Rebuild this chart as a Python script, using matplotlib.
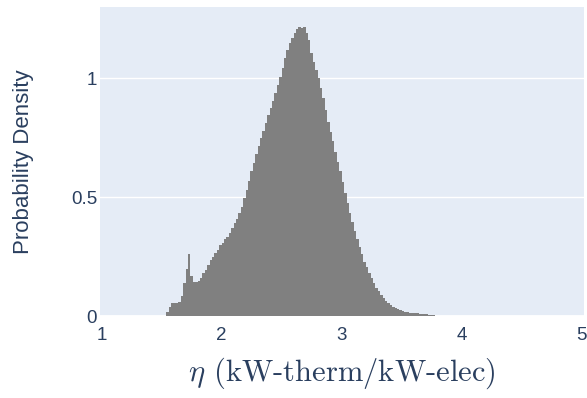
import numpy as np
import matplotlib
matplotlib.use("Agg")
import matplotlib.pyplot as plt

# Histogram of heat-pump efficiency (probability density per bin)
bin_start = 1.54
bin_width = 0.02
density = [
    0.020, 0.040, 0.055, 0.057, 0.057, 0.060, 0.085, 0.140, 0.200, 0.260,
    0.170, 0.145, 0.145, 0.148, 0.160, 0.180, 0.195, 0.215, 0.235, 0.250,
    0.265, 0.280, 0.300, 0.310, 0.325, 0.335, 0.350, 0.370, 0.390, 0.410,
    0.435, 0.460, 0.495, 0.530, 0.570, 0.610, 0.645, 0.680, 0.715, 0.750,
    0.780, 0.810, 0.845, 0.875, 0.905, 0.940, 0.970, 1.005, 1.045, 1.085,
    1.120, 1.150, 1.170, 1.190, 1.205, 1.215, 1.210, 1.215, 1.190, 1.160,
    1.105, 1.070, 1.035, 1.000, 0.960, 0.915, 0.865, 0.815, 0.775, 0.735,
    0.690, 0.650, 0.610, 0.565, 0.520, 0.475, 0.435, 0.395, 0.360, 0.325,
    0.290, 0.260, 0.230, 0.205, 0.180, 0.160, 0.140, 0.120, 0.105, 0.090,
    0.076, 0.064, 0.055, 0.047, 0.040, 0.034, 0.029, 0.025, 0.021, 0.018,
    0.016, 0.015, 0.014, 0.013, 0.012, 0.011, 0.010, 0.009, 0.008, 0.007,
    0.006, 0.005,
]
x_ticks = [1, 2, 3, 4, 5]
x_tick_labels = ["1", "2", "3", "4", "5"]
y_ticks = [0, 0.5, 1]
y_tick_labels = ["0", "0.5", "1"]

edges = bin_start + bin_width * np.arange(len(density) + 1)

plt.rcParams["mathtext.fontset"] = "cm"
plt.rcParams["font.family"] = ["Liberation Sans", "DejaVu Sans"]

ink = "#2a3f5f"

fig = plt.figure(figsize=(5.87, 3.98), dpi=100)
ax = fig.add_axes([100 / 587, 1 - 316.3 / 398, 484 / 587, (316.3 - 7.3) / 398])
ax.set_facecolor("#E5ECF6")

ax.stairs(density, edges, fill=True, color="#808080", linewidth=0, zorder=2)

ax.set_xlim(0.986, 5.019)
ax.set_ylim(0, 1.298)
ax.set_yticks(y_ticks)
ax.set_yticklabels(y_tick_labels)
ax.set_xticks(x_ticks)
ax.set_xticklabels(x_tick_labels)
ax.grid(axis="y", color="white", linewidth=1.0, zorder=0)
ax.set_axisbelow(True)
ax.axhline(0, color="white", linewidth=2, zorder=1)

for s in ax.spines.values():
    s.set_visible(False)
ax.tick_params(axis="both", length=0, labelsize=13.5, labelcolor=ink)
ax.tick_params(axis="x", pad=8)
ax.tick_params(axis="y", pad=2)

ax.set_ylabel("Probability Density", fontsize=16, color=ink)
ax.yaxis.label.set_verticalalignment("center")
ax.yaxis.set_label_coords(-0.159, 0.5)
ax.set_xlabel(r"$\eta$ (kW-therm/kW-elec)", fontsize=22, color=ink,
              family="cmr10")
ax.xaxis.label.set_verticalalignment("center")
ax.xaxis.set_label_coords(0.5, -0.1835)

fig.savefig("out.png", dpi=100, facecolor="white")
